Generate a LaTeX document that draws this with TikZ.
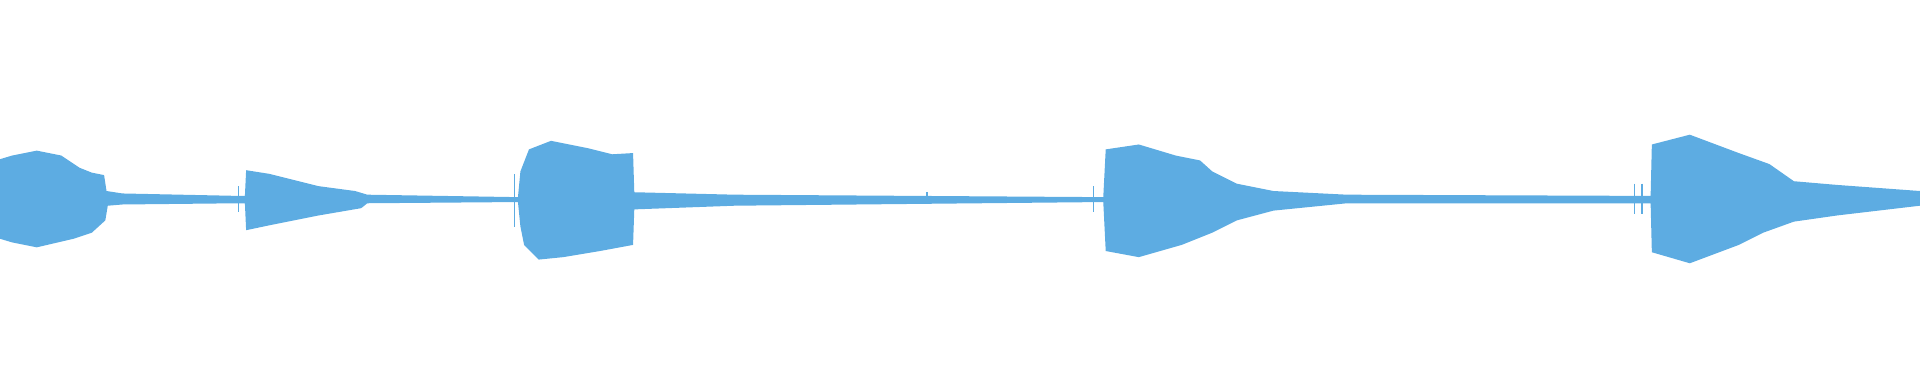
\documentclass[tikz,border=0pt]{standalone}
\usetikzlibrary{decorations.pathmorphing}
\definecolor{wave}{HTML}{5DACE2}
\begin{document}
\begin{tikzpicture}[x=1pt,y=-1pt,spike/.style={draw=wave,line width=1pt}]
\useasboundingbox (0,0) rectangle (1568,320);
\fill[wave] (0,130) -- (10,127) -- (30,123) -- (50,127) -- (65,137) -- (75,141) -- (85,143) -- (87,156) -- (100,158) -- (195,160) -- (200,160) -- (201,139) -- (220,142) -- (240,147) -- (260,152) -- (290,156) -- (300,159) -- (423,161) -- (425,140) -- (432,122) -- (450,115) -- (480,121) -- (500,126) -- (517,125) -- (518,157) -- (600,159) -- (901,161) -- (903,122) -- (930,118) -- (960,127) -- (980,131) -- (990,140) -- (1010,150) -- (1040,156) -- (1100,159) -- (1348,160) -- (1349,118) -- (1380,110) -- (1420,125) -- (1445,134) -- (1465,148) -- (1500,151) -- (1568,156)
-- (1568,168) -- (1500,176) -- (1465,181) -- (1440,190) -- (1420,200) -- (1380,215) -- (1349,206) -- (1348,166) -- (1100,166) -- (1040,172) -- (1010,180) -- (990,190) -- (965,200) -- (930,210) -- (903,205) -- (901,165) -- (600,168) -- (518,171) -- (517,200) -- (490,205) -- (460,210) -- (440,212) -- (428,200) -- (425,185) -- (423,165) -- (300,166) -- (295,170) -- (260,176) -- (240,180) -- (220,184) -- (201,188) -- (200,166) -- (195,166) -- (100,167) -- (88,168) -- (86,180) -- (75,190) -- (60,195) -- (30,202) -- (10,198) -- (0,195) -- cycle;
\draw[spike] (195,152) -- (195,173);
\draw[spike] (420,142) -- (420,185);
\draw[spike] (893,152) -- (893,173);
\draw[spike] (1335,150) -- (1335,175);
\draw[spike] (1341,150) -- (1341,175);
\draw[spike] (757,157) -- (757,167);
\end{tikzpicture}
\end{document}
